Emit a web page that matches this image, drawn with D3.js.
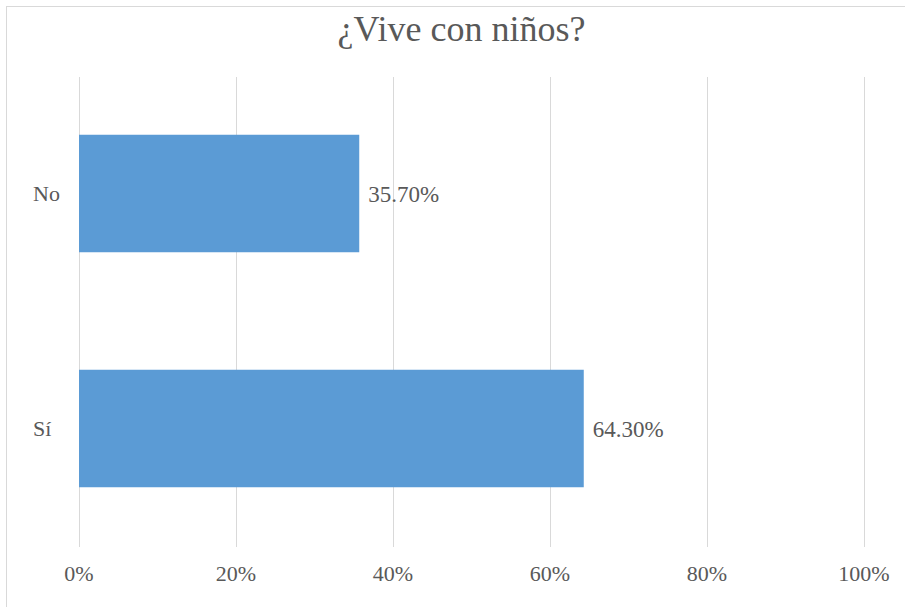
<!DOCTYPE html>
<meta charset="utf-8">
<head>
  <style>
    body { margin: 0; background: #fff; }
    .grid line { stroke: #d9d9d9; stroke-width: 1px; }
  </style>
  <script src="https://d3js.org/d3.v7.min.js"></script>
</head>
<body>
  <svg width="905" height="607"></svg>
  <script>
    var categories = ["No", "Sí"];
    var values = [35.7, 64.3];
    var tickValues = [0, 20, 40, 60, 80, 100];

    var font = "'Liberation Serif'";
    var svg = d3.select("svg");

    // chart frame
    svg.append("rect")
      .attr("x", 6.5).attr("y", 6.5)
      .attr("width", 905).attr("height", 605)
      .attr("fill", "none")
      .attr("stroke", "#d9d9d9");

    var x = d3.scaleLinear().domain([0, 100]).range([79, 864]);
    var y = d3.scaleBand().domain(categories).range([76, 546]).paddingInner(0.5).paddingOuter(0.25);

    svg.append("text")
      .attr("x", 461.5).attr("y", 41)
      .attr("text-anchor", "middle")
      .style("font-family", font)
      .style("fill", "#595959")
      .style("font-size", "36px")
      .text("¿Vive con niños?");

    var grid = svg.append("g").attr("class", "grid");
    grid.selectAll("line")
      .data(tickValues)
      .enter().append("line")
      .attr("x1", function(d) { return Math.round(x(d)) + 0.5; })
      .attr("x2", function(d) { return Math.round(x(d)) + 0.5; })
      .attr("y1", 77).attr("y2", 547);

    svg.selectAll(".tick-label")
      .data(tickValues)
      .enter().append("text")
      .attr("class", "tick-label")
      .attr("x", function(d) { return x(d); })
      .attr("y", 581)
      .attr("text-anchor", "middle")
      .style("font-family", font)
      .style("fill", "#595959")
      .style("font-size", "22px")
      .text(function(d) { return d + "%"; });

    svg.selectAll(".bar")
      .data(values)
      .enter().append("rect")
      .attr("class", "bar")
      .attr("x", x(0))
      .attr("y", function(d, i) { return y(categories[i]); })
      .attr("width", function(d) { return x(d) - x(0); })
      .attr("height", y.bandwidth())
      .attr("fill", "#5b9bd5");

    svg.selectAll(".cat-label")
      .data(categories)
      .enter().append("text")
      .attr("class", "cat-label")
      .attr("x", 33)
      .attr("y", function(d) { return y(d) + y.bandwidth() / 2; })
      .attr("dy", "0.35em")
      .style("font-family", font)
      .style("fill", "#595959")
      .style("font-size", "22px")
      .text(function(d) { return d; });

    svg.selectAll(".val-label")
      .data(values)
      .enter().append("text")
      .attr("class", "val-label")
      .attr("x", function(d) { return x(d) + 9; })
      .attr("y", function(d, i) { return y(categories[i]) + y.bandwidth() / 2; })
      .attr("dy", "0.35em")
      .style("font-family", font)
      .style("fill", "#595959")
      .style("font-size", "23px")
      .text(function(d) { return d.toFixed(2) + "%"; });
  </script>
</body>
